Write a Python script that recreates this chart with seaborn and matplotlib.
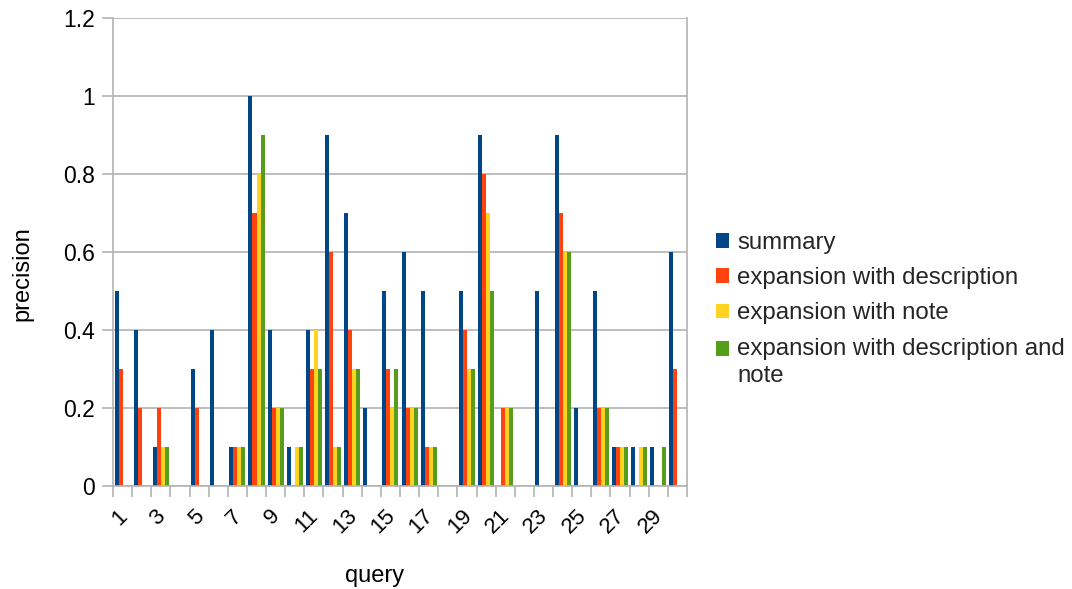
import textwrap
import numpy as np
import pandas as pd
import matplotlib
matplotlib.use("Agg")
import matplotlib.pyplot as plt
import matplotlib.transforms as mtransforms
import seaborn as sns
from matplotlib.patches import Patch, Rectangle
from matplotlib.legend_handler import HandlerPatch

queries = list(range(1, 31))
series_names = [
    "summary",
    "expansion with description",
    "expansion with note",
    "expansion with description and note",
]
summary = [0.5, 0.4, 0.1, 0, 0.3, 0.4, 0.1, 1.0, 0.4, 0.1,
           0.4, 0.9, 0.7, 0.2, 0.5, 0.6, 0.5, 0, 0.5, 0.9,
           0, 0, 0.5, 0.9, 0.2, 0.5, 0.1, 0.1, 0.1, 0.6]
exp_description = [0.3, 0.2, 0.2, 0, 0.2, 0, 0.1, 0.7, 0.2, 0,
                   0.3, 0.6, 0.4, 0, 0.3, 0.2, 0.1, 0, 0.4, 0.8,
                   0.2, 0, 0, 0.7, 0, 0.2, 0.1, 0, 0, 0.3]
exp_note = [0, 0, 0.1, 0, 0, 0, 0.1, 0.8, 0.2, 0.1,
            0.4, 0.1, 0.3, 0, 0.2, 0.2, 0.1, 0, 0.3, 0.7,
            0.2, 0, 0, 0.6, 0, 0.2, 0.1, 0.1, 0, 0]
exp_description_note = [0, 0, 0.1, 0, 0, 0, 0.1, 0.9, 0.2, 0.1,
                        0.3, 0.1, 0.3, 0, 0.3, 0.2, 0.1, 0, 0.3, 0.5,
                        0.2, 0, 0, 0.6, 0, 0.2, 0.1, 0.1, 0.1, 0]
colors = ["#004586", "#ff420e", "#ffd320", "#579d1c"]
ytick_values = [0, 0.2, 0.4, 0.6, 0.8, 1.0, 1.2]
ytick_labels = ["0", "0.2", "0.4", "0.6", "0.8", "1", "1.2"]

df = pd.DataFrame({
    "query": queries * 4,
    "series": np.repeat(series_names, len(queries)),
    "precision": summary + exp_description + exp_note + exp_description_note,
})

sns.set_theme(style="white")
plt.rcParams["font.family"] = ["Liberation Sans", "DejaVu Sans"]

GRID = "#b3b3b3"
W, H = 1072, 589
fig = plt.figure(figsize=(W / 100, H / 100), dpi=100)
fig.subplots_adjust(left=113 / W, right=687 / W, top=1 - 18 / H, bottom=1 - 486 / H)
ax = fig.add_subplot(111)

sns.barplot(data=df, x="query", y="precision", hue="series", hue_order=series_names,
            palette=colors, width=0.84, gap=0, dodge=True, saturation=1,
            linewidth=0, ax=ax, legend=False)

ax.set_xlim(-0.5, 29.5)
ax.set_ylim(0, 1.2)
ax.set_yticks(ytick_values, ytick_labels)
ax.yaxis.grid(True, color=GRID, linewidth=1.2)
ax.set_axisbelow(True)

ax.set_xticks(range(0, 30, 2), [str(q) for q in queries[::2]],
              rotation=45, ha="right", va="top", rotation_mode="anchor")
ax.set_xticks(np.arange(-0.5, 30.5, 1), minor=True)
ax.tick_params(axis="x", which="major", length=0, pad=14, labelsize=16, colors="#000000")
ax.tick_params(axis="x", which="minor", length=8, width=1.2, color=GRID, bottom=True)
ax.tick_params(axis="y", which="major", length=8, width=1.2, color=GRID, left=True,
               pad=5, labelsize=16.5, labelcolor="#000000")
shift = mtransforms.ScaledTranslation(-6 / 100, 0, fig.dpi_scale_trans)
for lbl in ax.get_xticklabels():
    lbl.set_transform(lbl.get_transform() + shift)

for side in ["left", "right", "bottom"]:
    ax.spines[side].set_color(GRID)
    ax.spines[side].set_linewidth(1.2)
ax.spines["top"].set_visible(False)

ax.set_xlabel("query", fontsize=17, color="#000000")
ax.set_ylabel("precision", fontsize=17, color="#000000")
ax.xaxis.set_label_coords((375 - 113) / 574, -(576 - 486) / 468)
ax.xaxis.label.set_va("center")
ax.yaxis.set_label_coords((22 - 113) / 574, (486 - 274) / 468)
ax.yaxis.label.set_va("center")


def first_line_square(legend, orig_handle, xdescent, ydescent, width, height, fontsize):
    # keep the swatch level with the first line of a wrapped label
    return Rectangle((-xdescent, -ydescent + 9.8), width, height)


handles = [Patch(facecolor=c, edgecolor="none") for c in colors]
labels = [textwrap.fill(n, 30) for n in series_names]
leg = ax.legend(handles, labels, loc="upper left", bbox_to_anchor=(716 / W, 1 - 232 / H),
                bbox_transform=fig.transFigure, frameon=False, fontsize=17.3,
                handlelength=0.55, handleheight=0.55, handletextpad=0.34, labelspacing=0.55,
                borderaxespad=0, borderpad=0,
                handler_map={handles[3]: HandlerPatch(patch_func=first_line_square)})
for t in leg.get_texts():
    t.set_linespacing(1.3)

fig.savefig("out.png", dpi=100)
